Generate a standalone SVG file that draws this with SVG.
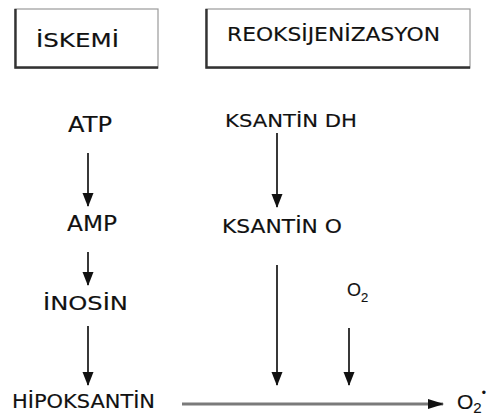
<svg xmlns="http://www.w3.org/2000/svg" width="490" height="416" viewBox="0 0 490 416">
  <style>
    .lbl { font-family: "DejaVu Sans", "Liberation Sans", sans-serif; fill: #111; stroke: #111; stroke-width: 0.15; }
    .chem { font-family: "Liberation Sans", Arial, sans-serif; fill: #111; stroke: #111; stroke-width: 0.15; }
    .box { fill: #fff; stroke: #9a9a9a; stroke-width: 1.2; }
    .edge { stroke: #333; stroke-width: 2.4; fill: none; }
    .flow { stroke: #222; stroke-width: 1.8; fill: none; marker-end: url(#head); }
    .main { stroke: #7a7a7a; stroke-width: 3; fill: none; marker-end: url(#headH); }
  </style>
  <defs>
    <marker id="head" markerUnits="userSpaceOnUse" markerWidth="12" markerHeight="14" viewBox="0 0 12 14" refX="6" refY="13" orient="0">
      <path d="M0.5,0 L11.5,0 L6,14 Z" fill="#111"/>
    </marker>
    <marker id="headH" markerUnits="userSpaceOnUse" markerWidth="16" markerHeight="12" viewBox="0 0 16 12" refX="15" refY="6" orient="0">
      <path d="M0,1 L16,6 L0,11 Z" fill="#111"/>
    </marker>
  </defs>

  <g id="iskemi">
    <rect class="box" x="15" y="9" width="143" height="59"/>
    <path class="edge" d="M15.5,9 V67.5 H158"/>
    <text class="lbl" x="36" y="47" font-size="20" textLength="83" lengthAdjust="spacingAndGlyphs">İSKEMİ</text>
  </g>

  <g id="reoksijenizasyon">
    <rect class="box" x="206" y="9" width="264" height="59"/>
    <path class="edge" d="M206.5,9 V67.5 H470"/>
    <text class="lbl" x="227" y="41" font-size="20" textLength="213" lengthAdjust="spacingAndGlyphs">REOKSİJENİZASYON</text>
  </g>

  <g id="atp">
    <text class="lbl" x="68" y="132" font-size="21" textLength="44" lengthAdjust="spacingAndGlyphs">ATP</text>
  </g>
  <g id="amp">
    <text class="lbl" x="67" y="231" font-size="21" textLength="50" lengthAdjust="spacingAndGlyphs">AMP</text>
  </g>
  <g id="inosin">
    <text class="lbl" x="43" y="310" font-size="20" textLength="85" lengthAdjust="spacingAndGlyphs">İNOSİN</text>
  </g>
  <g id="hipoksantin">
    <text class="lbl" x="12" y="408" font-size="20" textLength="143" lengthAdjust="spacingAndGlyphs">HİPOKSANTİN</text>
  </g>
  <g id="ksantin-dh">
    <text class="lbl" x="225" y="127" font-size="18" textLength="132" lengthAdjust="spacingAndGlyphs">KSANTİN DH</text>
  </g>
  <g id="ksantin-o">
    <text class="lbl" x="222" y="233" font-size="19" textLength="120" lengthAdjust="spacingAndGlyphs">KSANTİN O</text>
  </g>
  <g id="o2-in">
    <text class="chem" x="347" y="296" font-size="18">O<tspan font-size="13" dy="6">2</tspan></text>
  </g>
  <g id="o2-out">
    <text class="chem" x="457" y="409" font-size="21">O<tspan font-size="15" dy="4">2</tspan><tspan font-size="12" dy="-16">•</tspan></text>
  </g>

  <g id="connectors">
    <line class="flow" x1="88" y1="153" x2="88" y2="206"/>
    <line class="flow" x1="88" y1="252" x2="88" y2="285"/>
    <line class="flow" x1="88" y1="326" x2="88" y2="385"/>
    <line class="flow" x1="277" y1="133" x2="277" y2="207"/>
    <line class="flow" x1="277" y1="265" x2="277" y2="385"/>
    <line class="flow" x1="349" y1="328" x2="349" y2="385"/>
    <line class="main" x1="182" y1="404" x2="443" y2="404"/>
  </g>
</svg>
